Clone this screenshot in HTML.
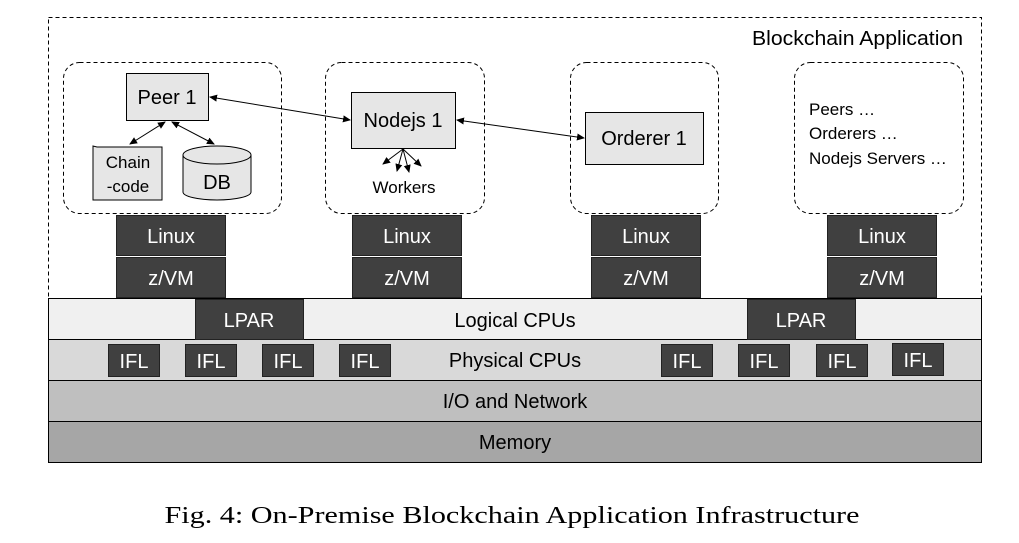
<!DOCTYPE html>
<html><head><meta charset="utf-8"><style>
html,body{margin:0;padding:0;background:#fff;width:1019px;height:543px;overflow:hidden}
svg{display:block}
text{font-family:"Liberation Sans",sans-serif}
</style></head><body>
<svg width="1019" height="543" viewBox="0 0 1019 543" xmlns="http://www.w3.org/2000/svg">
<defs>
<marker id="a" markerWidth="8" markerHeight="8" refX="7" refY="4" orient="auto-start-reverse" markerUnits="userSpaceOnUse"><path d="M0,0.5 L8,4 L0,7.5z" fill="#000"/></marker>
</defs>
<rect x="48.5" y="17.5" width="933" height="281" fill="none" stroke="#000" stroke-width="1" stroke-dasharray="4,3"/>
<text x="963" y="45" font-size="20" text-anchor="end" textLength="211" lengthAdjust="spacingAndGlyphs">Blockchain Application</text>
<rect x="48.5" y="298.5" width="933" height="41" fill="#f0f0f0" stroke="#000"/>
<rect x="48.5" y="339.5" width="933" height="41" fill="#d9d9d9" stroke="#000"/>
<rect x="48.5" y="380.5" width="933" height="41" fill="#bfbfbf" stroke="#000"/>
<rect x="48.5" y="421.5" width="933" height="41" fill="#a6a6a6" stroke="#000"/>
<g font-size="20" text-anchor="middle" fill="#000">
<text x="515" y="327">Logical CPUs</text>
<text x="515" y="367">Physical CPUs</text>
<text x="515" y="408">I/O and Network</text>
<text x="515" y="449">Memory</text>
</g>
<g fill="#404040" stroke="#222">
<rect x="195.5" y="299.5" width="108" height="40"/>
<rect x="747.5" y="299.5" width="108" height="40"/>
<rect x="108.5" y="344.5" width="51" height="32"/>
<rect x="185.5" y="344.5" width="51" height="32"/>
<rect x="262.5" y="344.5" width="51" height="32"/>
<rect x="339.5" y="344.5" width="51" height="32"/>
<rect x="661.5" y="344.5" width="51" height="32"/>
<rect x="738.5" y="344.5" width="51" height="32"/>
<rect x="816.5" y="344.5" width="51" height="32"/>
<rect x="892.5" y="343.5" width="51" height="32"/>
<rect x="116.5" y="215.5" width="109" height="40"/><rect x="116.5" y="257.5" width="109" height="40"/>
<rect x="352.5" y="215.5" width="109" height="40"/><rect x="352.5" y="257.5" width="109" height="40"/>
<rect x="591.5" y="215.5" width="109" height="40"/><rect x="591.5" y="257.5" width="109" height="40"/>
<rect x="827.5" y="215.5" width="109" height="40"/><rect x="827.5" y="257.5" width="109" height="40"/>
</g>
<g font-size="20" text-anchor="middle" fill="#fff">
<text x="249" y="327">LPAR</text><text x="801" y="327">LPAR</text>
<text x="134" y="368">IFL</text><text x="211" y="368">IFL</text><text x="288" y="368">IFL</text><text x="365" y="368">IFL</text>
<text x="687" y="368">IFL</text><text x="764" y="368">IFL</text><text x="842" y="368">IFL</text><text x="918" y="367">IFL</text>
<text x="171" y="243">Linux</text><text x="171" y="285">z/VM</text>
<text x="407" y="243">Linux</text><text x="407" y="285">z/VM</text>
<text x="646" y="243">Linux</text><text x="646" y="285">z/VM</text>
<text x="882" y="243">Linux</text><text x="882" y="285">z/VM</text>
</g>
<g fill="none" stroke="#000" stroke-dasharray="4,3">
<rect x="63.5" y="62.5" width="218" height="151" rx="16"/>
<rect x="325.5" y="62.5" width="159" height="151" rx="16"/>
<rect x="570.5" y="62.5" width="148" height="151" rx="16"/>
<rect x="794.5" y="62.5" width="169" height="151" rx="16"/>
</g>
<g fill="#e6e6e6" stroke="#000">
<rect x="126.5" y="73.5" width="82" height="47"/>
<rect x="351.5" y="92.5" width="104" height="56"/>
<rect x="585.5" y="112.5" width="118" height="52"/>
<path d="M97,147 L162,147 L162,200 L93,200 L93,146 Z"/>
<path d="M183,155 L183,192 A34,8 0 0 0 251,192 L251,155"/>
<ellipse cx="217" cy="155" rx="34" ry="9"/>
</g>
<g font-size="20" text-anchor="middle">
<text x="167" y="104">Peer 1</text>
<text x="403" y="127">Nodejs 1</text>
<text x="644" y="145">Orderer 1</text>
<text x="128" y="168" font-size="17">Chain</text>
<text x="128" y="192" font-size="17">-code</text>
<text x="217" y="189">DB</text>
<text x="404" y="193" font-size="17">Workers</text>
</g>
<g font-size="17">
<text x="809" y="115">Peers …</text>
<text x="809" y="139">Orderers …</text>
<text x="809" y="164">Nodejs Servers …</text>
</g>
<g stroke="#000" stroke-width="1" fill="none">
<line x1="210" y1="97" x2="350" y2="120" marker-start="url(#a)" marker-end="url(#a)"/>
<line x1="457" y1="120" x2="584" y2="138" marker-start="url(#a)" marker-end="url(#a)"/>
<line x1="165" y1="122" x2="130" y2="144" marker-start="url(#a)" marker-end="url(#a)"/>
<line x1="172" y1="122" x2="214" y2="144" marker-start="url(#a)" marker-end="url(#a)"/>
<line x1="403" y1="149" x2="383" y2="164" marker-end="url(#a)"/>
<line x1="403" y1="149" x2="397" y2="171" marker-end="url(#a)"/>
<line x1="403" y1="149" x2="409" y2="172" marker-end="url(#a)"/>
<line x1="403" y1="149" x2="421" y2="166" marker-end="url(#a)"/>
</g>
<text x="512" y="523" font-size="24" text-anchor="middle" textLength="695" lengthAdjust="spacingAndGlyphs" style="font-family:'Liberation Serif',serif">Fig. 4: On-Premise Blockchain Application Infrastructure</text>
</svg>
</body></html>
